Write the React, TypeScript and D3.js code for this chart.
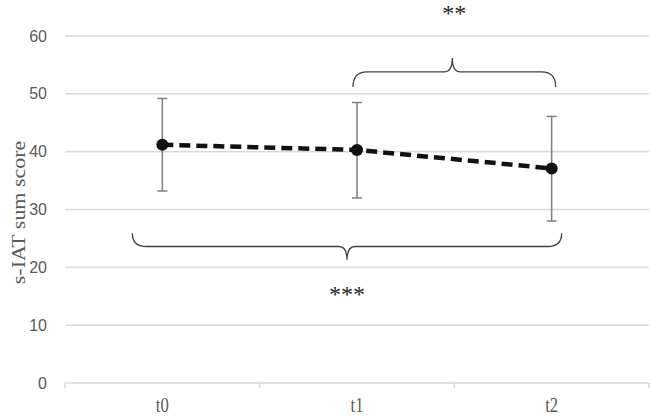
import React from "react";
import * as d3 from "d3";

const categories = ["t0", "t1", "t2"];
const means = [41.2, 40.3, 37.1];
const upper = [49.2, 48.5, 46.1];
const lower = [33.2, 32.0, 28.0];
const yTicks = [0, 10, 20, 30, 40, 50, 60];
const yTitle = "s-IAT sum score";

// significance annotations: brace levels and label levels (data units)
const sigLabels = ["**", "***"];
const sigEndVal = [51.2, 25.9];
const sigLineVal = [53.8, 23.6];
const sigTipVal = [56.2, 21.3];
const sigLabelVal = [62.6, 14.0];

const W = 650;
const H = 418;
const left = 65;
const right = 649;
const top = 36;
const bottom = 383;
const serif = "Liberation Serif, Times New Roman, serif";

export default function App() {
  const x = d3.scaleBand().domain(categories).range([left, right]);
  const cx = (c: string) => (x(c) as number) + x.bandwidth() / 2;
  const y = d3.scaleLinear().domain([0, 60]).range([bottom, top]);

  const line = d3
    .line<number>()
    .x((_, i) => cx(categories[i]))
    .y((d) => y(d));

  const brace = (x1: number, x2: number, tipX: number, yEnd: number, yLine: number, yTip: number) => {
    const r = 14;
    const rt = 8;
    const p = d3.path();
    p.moveTo(x1, yEnd);
    p.quadraticCurveTo(x1, yLine, x1 + r, yLine);
    p.lineTo(tipX - rt, yLine);
    p.quadraticCurveTo(tipX, yLine, tipX, yTip);
    p.quadraticCurveTo(tipX, yLine, tipX + rt, yLine);
    p.lineTo(x2 - r, yLine);
    p.quadraticCurveTo(x2, yLine, x2, yEnd);
    return p.toString();
  };

  const braceX1 = [cx("t1") - 4, cx("t0") - 30];
  const braceX2 = [cx("t2") + 4, cx("t2") + 10];
  const tipX = [(cx("t1") + cx("t2")) / 2 - 2, cx("t1") - 10];
  const labelX = [tipX[0] + 2, tipX[1]];

  return (
    <svg
      width={W}
      height={H}
      style={{ position: "absolute", left: 0, top: 0, background: "#fff" }}
    >
      {yTicks.map((t) => (
        <g key={t}>
          <line x1={left} x2={right} y1={y(t)} y2={y(t)} stroke="#d9d9d9" strokeWidth={1.5} />
          <text
            x={47}
            y={y(t) + 5.5}
            textAnchor="end"
            fontFamily="Liberation Sans, Arial, sans-serif"
            fontSize={16}
            fill="#595959"
          >
            {t}
          </text>
        </g>
      ))}
      {[left, ...categories.map((c) => (x(c) as number) + x.bandwidth())].map((tx, i) => (
        <line key={i} x1={tx} x2={tx} y1={bottom} y2={bottom + 5} stroke="#d9d9d9" strokeWidth={1.5} />
      ))}
      {categories.map((c) => (
        <text
          key={c}
          transform={`translate(${cx(c)},412) scale(1,1.24)`}
          textAnchor="middle"
          fontFamily={serif}
          fontSize={16.7}
          fill="#595959"
        >
          {c}
        </text>
      ))}
      <text
        transform={`translate(25,212.5) scale(1,1.22) rotate(-90)`}
        textAnchor="middle"
        fontFamily={serif}
        fontSize={18}
        fill="#595959"
      >
        {yTitle}
      </text>

      {categories.map((c, i) => (
        <g key={c} stroke="#7f7f7f" strokeWidth={1.5}>
          <line x1={cx(c)} x2={cx(c)} y1={y(upper[i])} y2={y(lower[i])} />
          <line x1={cx(c) - 5} x2={cx(c) + 5} y1={y(upper[i])} y2={y(upper[i])} />
          <line x1={cx(c) - 5} x2={cx(c) + 5} y1={y(lower[i])} y2={y(lower[i])} />
        </g>
      ))}

      <path
        d={line(means) || ""}
        fill="none"
        stroke="#111"
        strokeWidth={4.5}
        strokeDasharray="11 6"
      />
      {categories.map((c, i) => (
        <circle key={c} cx={cx(c)} cy={y(means[i])} r={6} fill="#111" />
      ))}

      {sigLabels.map((lab, i) => (
        <g key={i}>
          <path
            d={brace(
              braceX1[i],
              braceX2[i],
              tipX[i],
              y(sigEndVal[i]),
              y(sigLineVal[i]),
              y(sigTipVal[i])
            )}
            fill="none"
            stroke="#404040"
            strokeWidth={1.3}
          />
          <text
            x={labelX[i]}
            y={y(sigLabelVal[i])}
            textAnchor="middle"
            fontFamily={serif}
            fontSize={24}
            fill="#222"
          >
            {lab}
          </text>
        </g>
      ))}
    </svg>
  );
}
